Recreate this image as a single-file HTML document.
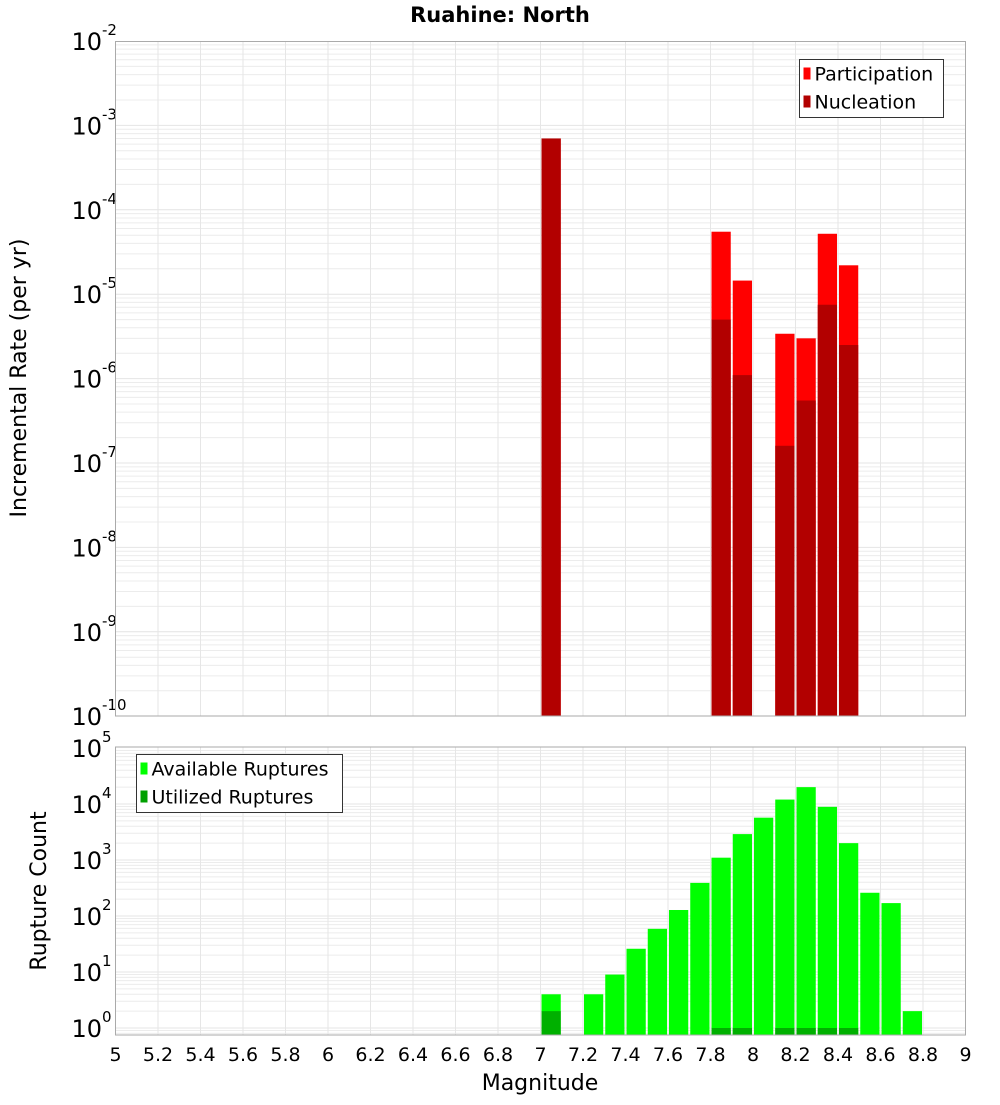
<!DOCTYPE html>
<html><head><meta charset="utf-8"><style>
body{margin:0;background:#fff;}
svg text{font-family:"DejaVu Sans","Liberation Sans",sans-serif;}
</style></head><body>
<svg id="chart" width="1000" height="1100" xmlns="http://www.w3.org/2000/svg">
<text x="500" y="22" text-anchor="middle" font-size="21" font-weight="bold">Ruahine: North</text>
<g id="top"></g><g id="bot"></g>
<text transform="translate(26,378) rotate(-90)" text-anchor="middle" font-size="22">Incremental Rate (per yr)</text>
<text transform="translate(46,891) rotate(-90)" text-anchor="middle" font-size="22">Rupture Count</text>
<text x="540" y="1090" text-anchor="middle" font-size="22">Magnitude</text>
</svg>
<script>
const NS="http://www.w3.org/2000/svg";
const topMags=[7.05,7.85,7.95,8.15,8.25,8.35,8.45];
const participation=[7.0e-4,5.5e-5,1.45e-5,3.4e-6,3.0e-6,5.2e-5,2.2e-5];
const nucleation=[7.0e-4,5.0e-6,1.1e-6,1.6e-7,5.5e-7,7.5e-6,2.5e-6];
const botMags=[7.05,7.25,7.35,7.45,7.55,7.65,7.75,7.85,7.95,8.05,8.15,8.25,8.35,8.45,8.55,8.65,8.75];
const available=[4,4,9,26,59,128,390,1100,2900,5700,12000,20000,8900,2000,260,170,2];
const utilized=[2,0,0,0,0,0,0,1,1,0,1,1,1,1,0,0,0];
const xTicks=[5,5.2,5.4,5.6,5.8,6,6.2,6.4,6.6,6.8,7,7.2,7.4,7.6,7.8,8,8.2,8.4,8.6,8.8,9];
const topExp=[-2,-3,-4,-5,-6,-7,-8,-9,-10];
const botExp=[5,4,3,2,1,0];
const X0=115.5,X1=965.5;
const xs=m=>X0+(m-5)/4*(X1-X0);
const topY=v=>41+(-2-Math.log10(v))*84.4;
const botY=v=>1028-Math.log10(v)*56;
function el(tag,attrs,parent,txt){const e=document.createElementNS(NS,tag);for(const k in attrs)e.setAttribute(k,attrs[k]);if(txt!==undefined)e.textContent=txt;parent.appendChild(e);return e;}
function panel(g,yTop,yBot,yf,lo,hi,exps,nm){
  for(let d=lo;d<hi;d++)for(let k=1;k<10;k++){const y=yf(k*Math.pow(10,d));if(y<yTop||y>yBot)continue;
    const l=el('line',{x1:X0,x2:X1,y1:y,y2:y,stroke:k==1?'#e4e4e4':'#ececec','stroke-width':1},g);
    
    }
  xTicks.forEach(t=>{const l=el('line',{x1:xs(t),x2:xs(t),y1:yTop,y2:yBot,stroke:'#e6e6e6'},g);
    
    });
  exps.forEach(e=>{const y=yf(Math.pow(10,e));const t=el('text',{x:102,y:y+9,'text-anchor':'end','font-size':24},g,'10');
    
    
    const s=el('text',{x:102,y:y-6,'font-size':15},g,String(e));
    
    });
}
const gt=document.getElementById('top'),gb=document.getElementById('bot');
panel(gt,41,716,topY,-10,-2,topExp,'top');
panel(gb,747,1035,botY,-1,5,botExp,'bottom');
const bw=(X1-X0)/40;
topMags.forEach((m,i)=>{const x=xs(m)-bw/2+1,w=bw-2;
  const p=el('rect',{x:x,y:topY(participation[i]),width:w,height:716-topY(participation[i]),fill:'#ff0000'},gt);
  
  
  const n=el('rect',{x:x,y:topY(nucleation[i]),width:w,height:716-topY(nucleation[i]),fill:'#b20000'},gt);
  
  });
botMags.forEach((m,i)=>{const x=xs(m)-bw/2+1,w=bw-2;
  const a=el('rect',{x:x,y:botY(available[i]),width:w,height:1035-botY(available[i]),fill:'#00ff00'},gb);
  
  
  if(utilized[i]>0){const u=el('rect',{x:x,y:botY(utilized[i]),width:w,height:1035-botY(utilized[i]),fill:'#00b000'},gb);
  
  }});
xTicks.forEach(t=>{const l=el('text',{x:xs(t),y:1061,'text-anchor':'middle','font-size':19},gb,String(t));
  
  });
const f1=el('rect',{x:X0,y:41.5,width:X1-X0,height:674.5,fill:'none',stroke:'#aaa'},gt);


const f2=el('rect',{x:X0,y:747,width:X1-X0,height:288,fill:'none',stroke:'#aaa'},gb);


function legend(g,x,y,w,h,items,nm){const b=el('rect',{x:x,y:y,width:w,height:h,fill:'#fff',stroke:'#333'},g);
  
  
  items.forEach((it,i)=>{const yy=y+14+i*28;
    const s=el('rect',{x:x+4,y:yy-6,width:7,height:12,fill:it[1]},g);
    
    
    const t=el('text',{x:x+15,y:yy+7,'font-size':19},g,it[0]);
    
    });}
legend(gt,799.5,59.5,144,58,[['Participation','#ff0000'],['Nucleation','#b20000']],'top-legend');
legend(gb,136.5,754.5,206,58,[['Available Ruptures','#00ff00'],['Utilized Ruptures','#00a000']],'bottom-legend');
</script>
</body></html>
